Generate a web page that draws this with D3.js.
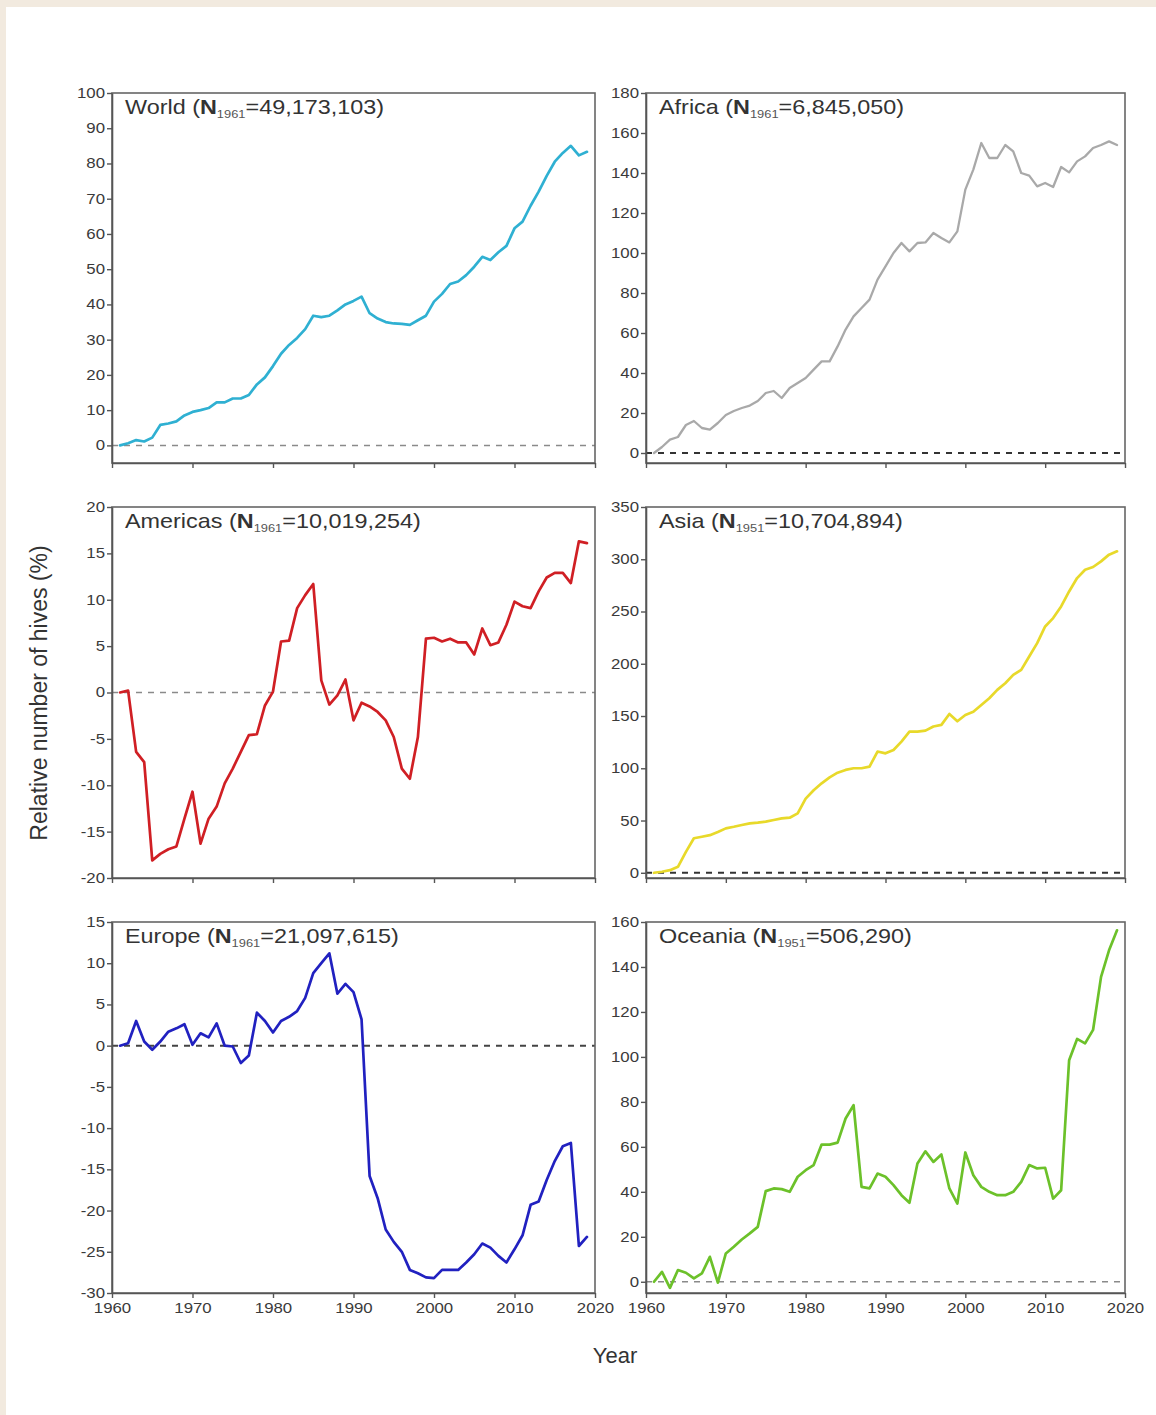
<!DOCTYPE html>
<html>
<head>
<meta charset="utf-8">
<script src="https://cdn.jsdelivr.net/npm/d3@7/dist/d3.min.js"></script>
<style>
  html, body { margin: 0; padding: 0; background: #f2eadf; }
  svg { display: block; }
  text { font-family: "Liberation Sans", Arial, Helvetica, sans-serif; }
</style>
</head>
<body>
<svg id="chart" width="1156" height="1415"></svg>
<script>
// Relative number of hives (% change vs. 1961), yearly 1961-2019
const years = d3.range(1961, 2020);

const world = [
  0, 0.6, 1.5, 1.1, 2.2, 5.8, 6.2, 6.8, 8.5, 9.5,
  10, 10.6, 12.2, 12.2, 13.3, 13.3, 14.3, 17.3, 19.3, 22.5,
  26, 28.5, 30.5, 33, 36.8, 36.4, 36.8, 38.3, 40, 41,
  42.2, 37.5, 36, 35, 34.6, 34.5, 34.2, 35.5, 36.8, 40.8,
  43, 45.8, 46.5, 48.3, 50.7, 53.5, 52.6, 54.8, 56.6, 61.6,
  63.5, 68, 72, 76.5, 80.5, 83, 85, 82.3, 83.3
];
const africa = [
  0, 3, 6.7, 8, 14, 16, 12.5, 11.7, 15, 19,
  21, 22.5, 23.7, 26, 30, 31, 27.5, 32.5, 35, 37.5,
  41.7, 45.8, 45.8, 53.3, 61.7, 68.3, 72.5, 76.7, 86.7, 93.3,
  100, 105, 100.8, 105, 105.3, 110, 107.5, 105.3, 110.8, 131.7,
  141.7, 155, 147.5, 147.5, 154, 150.8, 140, 138.7, 133.3, 135,
  133, 143, 140.3, 145.8, 148.3, 152.5, 154, 155.8, 154
];
const americas = [
  0, 0.2, -6.4, -7.5, -18.1, -17.4, -16.9, -16.6, -13.6, -10.7,
  -16.3, -13.6, -12.3, -9.8, -8.2, -6.4, -4.6, -4.5, -1.4, 0.1,
  5.5, 5.6, 9.1, 10.5, 11.7, 1.3, -1.3, -0.3, 1.4, -3.0,
  -1.1, -1.5, -2.1, -3.0, -4.8, -8.2, -9.3, -4.8, 5.8, 5.9,
  5.5, 5.8, 5.4, 5.4, 4.1, 6.9, 5.1, 5.4, 7.3, 9.8,
  9.3, 9.1, 10.9, 12.4, 12.9, 12.9, 11.8, 16.3, 16.1
];
const asia = [
  0, 1, 2.5, 5.7, 20, 33, 34.5, 36, 39, 42.5,
  44, 45.7, 47.3, 48, 49, 50.5, 52, 52.7, 56.9, 71,
  79, 85.6, 91.3, 95.8, 98.4, 100, 100, 101.6, 116, 114.3,
  117.5, 125.5, 135, 135, 136, 140, 141.5, 152, 145, 151,
  154, 160.6, 167, 175, 181.4, 189.4, 194.2, 207, 219.7, 235.7,
  243.7, 254.9, 269.2, 282, 290, 292.6, 298, 304.4, 307.6
];
const europe = [
  0, 0.3, 3.0, 0.5, -0.5, 0.5, 1.7, 2.1, 2.6, 0.1,
  1.5, 1.0, 2.7, 0, -0.1, -2.1, -1.2, 4.0, 3.0, 1.6,
  3.0, 3.5, 4.2, 5.8, 8.8, 10, 11.2, 6.3, 7.5, 6.5,
  3.2, -15.8, -18.5, -22.3, -23.8, -25, -27.2, -27.6, -28.1, -28.2,
  -27.2, -27.2, -27.2, -26.3, -25.3, -24, -24.5, -25.5, -26.3, -24.7,
  -23, -19.3, -18.9, -16.3, -14, -12.2, -11.8, -24.3, -23.2
];
const oceania = [
  0, 4.4, -2.7, 5.2, 4, 1.5, 3.7, 11.1, -0.4, 12.6,
  15.6, 18.8, 21.5, 24.4, 40.3, 41.5, 41.2, 40, 46.7, 49.6,
  51.9, 61, 61, 61.9, 72.6, 78.5, 42.2, 41.5, 48.1, 46.7,
  43, 38.5, 35.1, 52.6, 58, 53.3, 56.6, 41.5, 34.8, 57.5,
  47.4, 42.2, 40, 38.5, 38.5, 40, 44.4, 51.9, 50.4, 50.7,
  37, 40.7, 98.5, 108, 106, 112, 135.6, 147.4, 156.3
];

// Axis ticks
const xTicks = [1960, 1970, 1980, 1990, 2000, 2010, 2020];
const worldTicks = [0, 10, 20, 30, 40, 50, 60, 70, 80, 90, 100];
const africaTicks = [0, 20, 40, 60, 80, 100, 120, 140, 160, 180];
const americasTicks = [-20, -15, -10, -5, 0, 5, 10, 15, 20];
const asiaTicks = [0, 50, 100, 150, 200, 250, 300, 350];
const europeTicks = [-30, -25, -20, -15, -10, -5, 0, 5, 10, 15];
const oceaniaTicks = [0, 20, 40, 60, 80, 100, 120, 140, 160];

// Panel titles: region name, base year, base count
const names = ["World", "Africa", "Americas", "Asia", "Europe", "Oceania"];
const baseYears = ["1961", "1961", "1961", "1951", "1961", "1951"];
const baseCounts = ["49,173,103", "6,845,050", "10,019,254", "10,704,894", "21,097,615", "506,290"];

const panels = [
  { values: world,    ticks: worldTicks,    domain: [-5, 100],  color: "#2fb0d2", zero: "#8a8a8a", col: 0, row: 0, width: 2.7 },
  { values: africa,   ticks: africaTicks,   domain: [-5, 180],  color: "#a9a9a9", zero: "#333333", col: 1, row: 0, width: 2.3 },
  { values: americas, ticks: americasTicks, domain: [-20, 20],  color: "#d01f24", zero: "#8a8a8a", col: 0, row: 1, width: 2.7 },
  { values: asia,     ticks: asiaTicks,     domain: [-5, 350],  color: "#e8d92a", zero: "#333333", col: 1, row: 1, width: 2.7 },
  { values: europe,   ticks: europeTicks,   domain: [-30, 15],  color: "#2121c0", zero: "#444444", col: 0, row: 2, width: 2.7 },
  { values: oceania,  ticks: oceaniaTicks,  domain: [-5, 160],  color: "#6cc12a", zero: "#8a8a8a", col: 1, row: 2, width: 2.7 }
];

const colX = [[112, 595], [646, 1125]];
const rowY = [[93, 463], [507, 878], [922, 1293]];
const SX = 1.2;   // horizontal widening of the lettering

const svg = d3.select("#chart");

// page background and white sheet
svg.append("rect").attr("x", 0).attr("y", 0).attr("width", 1156).attr("height", 1415).attr("fill", "#f2eadf");
svg.append("rect").attr("x", 6).attr("y", 7).attr("width", 1150).attr("height", 1408).attr("fill", "#ffffff");

panels.forEach((p, i) => {
  const [x0, x1] = colX[p.col];
  const [y0, y1] = rowY[p.row];
  const x = d3.scaleLinear().domain([1960, 2020]).range([x0, x1]);
  const y = d3.scaleLinear().domain(p.domain).range([y1, y0]);
  const g = svg.append("g");

  // zero reference line
  g.append("line")
    .attr("x1", x0).attr("x2", x1)
    .attr("y1", y(0)).attr("y2", y(0))
    .attr("stroke", p.zero)
    .attr("stroke-width", p.zero === "#8a8a8a" ? 1.5 : 2)
    .attr("stroke-dasharray", "6,6");

  // series line
  const line = d3.line().x((d, k) => x(years[k])).y(d => y(d));
  g.append("path")
    .datum(p.values)
    .attr("fill", "none")
    .attr("stroke", p.color)
    .attr("stroke-width", p.width)
    .attr("stroke-linejoin", "round")
    .attr("stroke-linecap", "round")
    .attr("d", line);

  // frame
  g.append("rect")
    .attr("x", x0).attr("y", y0)
    .attr("width", x1 - x0).attr("height", y1 - y0)
    .attr("fill", "none")
    .attr("stroke", "#666")
    .attr("stroke-width", 1.6);

  // y axis (plain hyphen for negatives)
  const ya = g.append("g")
    .attr("transform", `translate(${x0},0)`)
    .call(d3.axisLeft(y).tickValues(p.ticks).tickSize(5).tickSizeOuter(0).tickPadding(2)
      .tickFormat(d => String(d)));
  ya.select(".domain").attr("stroke", "#555").attr("stroke-width", 1.6);
  ya.selectAll(".tick line").attr("stroke", "#555").attr("stroke-width", 1.4);
  ya.selectAll(".tick text")
    .attr("x", -7 / SX)
    .attr("transform", `scale(${SX},1)`)
    .attr("fill", "#3a3a3a")
    .style("font-size", "14px");

  // x axis
  const bottomRow = p.row === 2;
  const xa = g.append("g")
    .attr("transform", `translate(0,${y1})`)
    .call(d3.axisBottom(x).tickValues(xTicks).tickSize(5).tickSizeOuter(0).tickPadding(5)
      .tickFormat(bottomRow ? d => String(d) : () => ""));
  xa.select(".domain").attr("stroke", "#555").attr("stroke-width", 1.6);
  xa.selectAll(".tick line").attr("stroke", "#555").attr("stroke-width", 1.4);
  xa.selectAll(".tick text")
    .attr("transform", `scale(${SX},1)`)
    .attr("fill", "#3a3a3a")
    .style("font-size", "14px");

  // panel title
  const t = g.append("text")
    .attr("transform", `translate(${x0 + 13},${y0 + 21}) scale(1.17,1)`)
    .attr("fill", "#333")
    .style("font-size", "20px");
  t.append("tspan").text(names[i] + " (");
  t.append("tspan").attr("font-weight", "bold").text("N");
  t.append("tspan").attr("dy", 4).style("font-size", "11px").attr("fill", "#555").text(baseYears[i]);
  t.append("tspan").attr("dy", -4).text("=" + baseCounts[i] + ")");
});

// shared axis titles
svg.append("text")
  .attr("transform", "translate(47,693) rotate(-90)")
  .attr("text-anchor", "middle")
  .attr("fill", "#333")
  .style("font-size", "23px")
  .text("Relative number of hives (%)");

svg.append("text")
  .attr("x", 615).attr("y", 1363)
  .attr("text-anchor", "middle")
  .attr("fill", "#333")
  .style("font-size", "22px")
  .text("Year");
</script>
</body>
</html>
